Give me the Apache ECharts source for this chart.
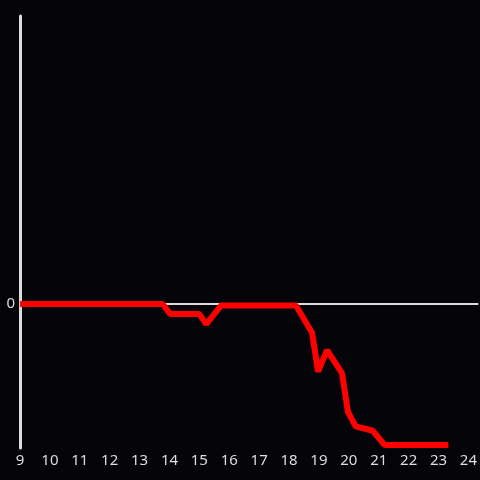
<!DOCTYPE html>
<html>
<head>
<meta charset="utf-8">
<script src="https://cdn.jsdelivr.net/npm/echarts@6/dist/echarts.min.js"></script>
<style>
  html, body { margin: 0; padding: 0; background: #050408; }
  #chart { width: 480px; height: 480px; }
</style>
</head>
<body>
<div id="chart"></div>
<script>
// x positions (hours) and y values
const xs = [9, 13.77, 14.03, 15.0, 15.23, 15.73, 18.23, 18.77, 18.97, 19.27, 19.77, 19.97, 20.23, 20.8, 21.2, 23.33]
const ys = [0, 0, -0.07, -0.07, -0.14, -0.01, -0.01, -0.2, -0.47, -0.32, -0.48, -0.75, -0.85, -0.88, -0.98, -0.98]

const chart = echarts.init(document.getElementById('chart'))

const axisColor = '#dddddd'

chart.setOption({
  backgroundColor: '#050408',
  animation: false,
  grid: { left: 20, right: 0, top: 16, bottom: 32 },
  xAxis: {
    type: 'value',
    min: 9,
    max: 24.3333,
    interval: 1,
    axisLine: { show: false, onZero: false },
    axisTick: { show: false },
    splitLine: { show: false },
    axisLabel: {
      color: axisColor,
      fontSize: 15,
      fontFamily: 'Noto Sans',
      margin: 5,
      showMaxLabel: false
    }
  },
  yAxis: {
    type: 'value',
    min: -1,
    max: 2,
    interval: 1,
    axisLine: { show: true, lineStyle: { color: axisColor, width: 3 } },
    axisTick: { show: false },
    splitLine: { show: false },
    axisLabel: {
      color: axisColor,
      fontSize: 15,
      fontFamily: 'Noto Sans',
      margin: 5,
      formatter: (v) => (v === 0 ? '0' : '')
    }
  },
  series: [
    {
      // zero baseline, kept under the red line
      type: 'line',
      data: [],
      markLine: {
        silent: true,
        z: 1,
        symbol: 'none',
        label: { show: false },
        lineStyle: { color: axisColor, width: 2, type: 'solid' },
        data: [{ yAxis: 0 }]
      }
    },
    {
      type: 'line',
      z: 3,
      data: xs.map((x, i) => [x, ys[i]]),
      symbol: 'none',
      lineStyle: { color: '#ff0000', width: 6 }
    }
  ]
})
</script>
</body>
</html>
